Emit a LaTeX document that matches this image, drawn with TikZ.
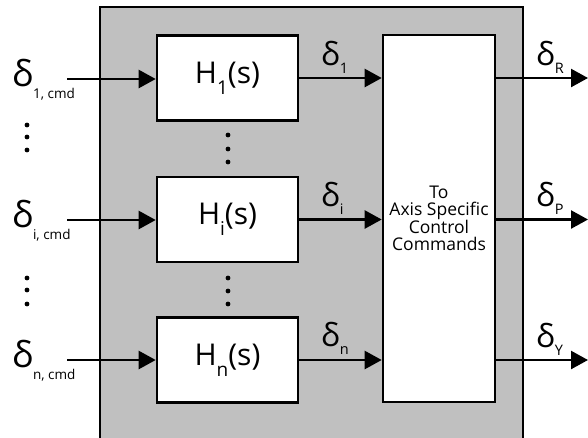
\documentclass[tikz,border=0pt]{standalone}
\usepackage{fontspec}
\setmainfont{Open Sans}
\usetikzlibrary{arrows.meta,positioning}
\definecolor{frameGray}{RGB}{192,192,192}
% delta with a lowered subscript: size, subscript, subscript size, drop
\newcommand{\dsig}[4]{{\fontsize{#1}{#1}\selectfont δ}\raisebox{-#4pt}{\fontsize{#3}{#3}\selectfont #2}}
\newcommand{\hsys}[1]{H\raisebox{-11pt}{\fontsize{19}{19}\selectfont #1}(s)}

\begin{document}
\begin{tikzpicture}[x=1pt, y=-1pt,
  blk/.style={draw, line width=2.6pt, fill=white, inner sep=0pt},
  sig/.style={line width=2.4pt, -{Triangle[length=17pt,width=18pt]}},
  lab/.style={anchor=base west, inner sep=0pt},
  dot/.style={circle, fill, inner sep=0pt, minimum size=4.8pt}]
\useasboundingbox (0,0) rectangle (588,437);
% grey frame, open at the bottom of the page
\draw[line width=2.4pt, fill=frameGray] (100,450) -- (100,7) -- (523,7) -- (523,450);
% filter blocks
\foreach \n/\k/\y in {h1/1/78, hi/i/219.5, hn/n/360}
  \node[blk, minimum width=141pt, minimum height=85pt, font=\fontsize{30}{30}\selectfont]
    (\n) at (227.5,\y) {\hsys{\k}};
\node[blk, minimum width=112pt, minimum height=367pt, align=center,
  font=\fontsize{17.5}{17}\selectfont] (axis) at (439,218.5)
  {To\\Axis Specific\\Control\\Commands};
% inputs
\foreach \n/\k/\y in {h1/1/0, hi/i/141, hn/n/281}{
  \coordinate (s\k) at (67,79+\y);
  \node[lab] (in\k) at (12,86+\y) {\dsig{36}{\k, cmd}{13.5}{12}};
  \draw[sig] (s\k) -- (s\k -| \n.west);
  \draw[sig] (\n.east) -- (\n.east -| axis.west);
  \node[lab] (mid\k) at (321,65+\y) {\dsig{32}{\k}{14.5}{8}};
}
% outputs
\coordinate (oEnd) at (588,0);
\foreach \n/\k/\y in {h1/R/0, hi/P/141, hn/Y/282}{
  \draw[sig] (\n -| axis.east) -- (\n -| oEnd);
  \node[lab] (out\k) at (536,65+\y) {\dsig{32}{\k}{14.5}{8}};
}
% ellipsis dots
\foreach \x/\y in {27/125, 27/137, 27/150, 27/278, 27/290, 27/304,
  228/135, 228/149, 228/162, 228/278, 228/291, 228/304}
  \node[dot] at (\x,\y) {};
\end{tikzpicture}
\end{document}
